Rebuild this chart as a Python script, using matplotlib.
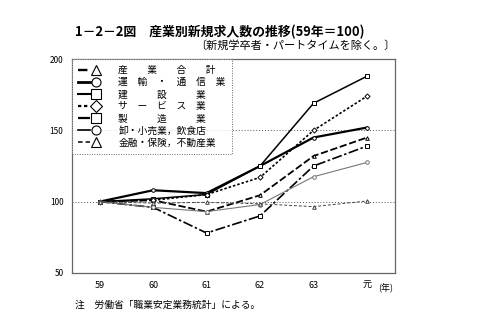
import matplotlib

matplotlib.use("Agg")
import matplotlib.pyplot as plt
from matplotlib.legend_handler import HandlerTuple
from matplotlib.lines import Line2D

plt.rcParams["font.family"] = ["Noto Sans CJK JP", "DejaVu Sans"]

years = ["59", "60", "61", "62", "63", "元"]

total = [100, 101, 93, 104.5, 132, 145]
transport = [100, 108, 106, 125, 145, 152]
construction = [100, 102, 105, 125, 169, 188]
service = [100, 101, 105, 117, 150, 174]
manufacturing = [100, 96, 78, 90, 125, 139]
retail = [100, 96, 93, 98, 117.5, 127.5]
finance = [100, 99, 99.5, 98.5, 96.5, 100.5]

y_ticks = [50, 100, 150, 200]

series = [
    ("産　　業　　合　　計", total, dict(ls=(0, (4, 1.5)), lw=1.3, marker="^", color="black")),
    ("運　輸　・　通　信　業", transport, dict(ls="-", lw=1.6, marker="o", color="black")),
    ("建　　　設　　　業", construction, dict(ls="-", lw=1.1, marker="s", color="black")),
    ("サ　ー　ビ　ス　業", service, dict(ls=(0, (1.5, 1.2)), lw=1.2, marker="D", color="black")),
    ("製　　　造　　　業", manufacturing, dict(ls=(0, (6, 1.5, 1.5, 1.5)), lw=1.2, marker="s", color="black")),
    ("卸・小売業，飲食店", retail, dict(ls="-", lw=0.8, marker="o", color="#777777")),
    ("金融・保険，不動産業", finance, dict(ls=(0, (3, 2)), lw=0.7, marker="^", color="#444444")),
]

fig = plt.figure(figsize=(4.85, 3.23), dpi=100)
ax = fig.add_axes([0.148, 0.155, 0.666, 0.662])

x = list(range(len(years)))
handles, labels = [], []
for label, vals, style in series:
    ax.plot(x, vals, markersize=2.6, markerfacecolor="white",
            markeredgewidth=0.7, **style)
    line_h = Line2D([], [], ls=style["ls"], lw=style["lw"] + 0.4, color="black")
    mark_h = Line2D([], [], ls="none", marker=style["marker"], markersize=6.5,
                    markerfacecolor="white", markeredgecolor="black",
                    markeredgewidth=0.8)
    handles.append((line_h, mark_h))
    labels.append(label)

for v in (100, 150):
    ax.axhline(v, color="#555555", ls=(0, (1, 2)), lw=0.7, zorder=0)

ax.set_xlim(-0.52, len(years) - 0.48)
ax.set_ylim(50, 200)
ax.set_yticks(y_ticks)
ax.set_yticklabels([str(t) for t in y_ticks], fontsize=6)
ax.set_xticks(x)
ax.set_xticklabels(years, fontsize=6.5)
ax.tick_params(length=0, pad=6)
for side in ("left", "bottom", "top", "right"):
    ax.spines[side].set_color("#666666")
    ax.spines[side].set_linewidth(0.9)

leg = ax.legend(handles, labels, loc="upper left", fontsize=7, frameon=True,
                fancybox=False, borderpad=0.6, handlelength=2.5,
                handletextpad=1.7, labelspacing=0.22, borderaxespad=0,
                handler_map={tuple: HandlerTuple(ndivide=2, pad=0)})
leg.get_frame().set_edgecolor("#444444")
leg.get_frame().set_linestyle((0, (1, 1.5)))
leg.get_frame().set_linewidth(0.7)

fig.text(0.795, 0.108, "(年)", fontsize=6.5, ha="center", va="center")

fig.text(0.155, 0.9, "1－2－2図　産業別新規求人数の推移(59年＝100)",
         fontsize=9.3, fontweight="bold", ha="left", va="center")
fig.text(0.815, 0.86, "〔新規学卒者・パートタイムを除く。〕",
         fontsize=8, ha="right", va="center")
fig.text(0.155, 0.055, "注　労働省「職業安定業務統計」による。",
         fontsize=7, ha="left", va="center")

fig.savefig("out.png", dpi=100)
